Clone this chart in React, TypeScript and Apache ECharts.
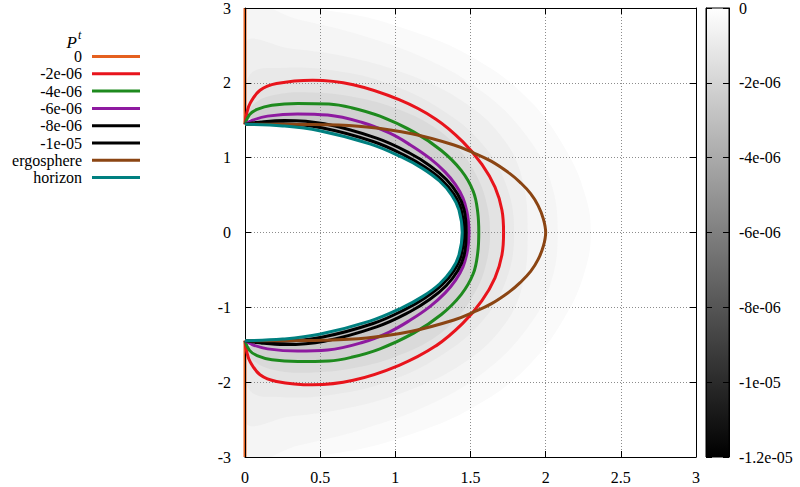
import { useEffect, useRef } from "react";
import * as echarts from "echarts";

// ---- tick labels ----
const xTickLabels = ["0", "0.5", "1", "1.5", "2", "2.5", "3"];
const yTickLabels = ["-3", "-2", "-1", "0", "1", "2", "3"];
const cbTickLabels = ["0", "-2e-06", "-4e-06", "-6e-06", "-8e-06", "-1e-05", "-1.2e-05"];

// ---- curves, upper half (x, y); the plot is symmetric in y ----
const zeroUpper = [[0, 1.445], [0, 3]];
const zeroLower = [[0, -1.445], [0, -3]];
const redUpper = [[0, 1.445], [0.012, 1.6], [0.035, 1.73], [0.1, 1.9], [0.21, 1.99], [0.45, 2.035], [0.72, 1.975], [1.025, 1.775], [1.27, 1.515], [1.448, 1.215], [1.576, 0.91], [1.663, 0.605], [1.709, 0.3], [1.72, 0]];
const greenUpper = [[0, 1.445], [0.03, 1.575], [0.08, 1.645], [0.179, 1.701], [0.351, 1.725], [0.558, 1.717], [0.708, 1.668], [0.898, 1.554], [1.125, 1.341], [1.306, 1.096], [1.438, 0.83], [1.518, 0.552], [1.548, 0.273], [1.555, 0]];
const purpleUpper = [[0, 1.445], [0.05, 1.5], [0.15, 1.555], [0.35, 1.585], [0.55, 1.57], [0.78, 1.47], [0.96, 1.33], [1.1, 1.17], [1.23, 0.99], [1.33, 0.81], [1.4, 0.64], [1.45, 0.46], [1.477, 0.27], [1.487, 0.13], [1.49, 0]];
const black8Upper = [[0, 1.445], [0.103, 1.476], [0.264, 1.497], [0.528, 1.452], [0.88, 1.257], [1.097, 1.059], [1.23, 0.893], [1.338, 0.711], [1.414, 0.515], [1.457, 0.31], [1.472, 0]];
const black10Upper = [[0, 1.445], [0.102, 1.456], [0.256, 1.453], [0.51, 1.4], [0.852, 1.216], [1.065, 1.028], [1.199, 0.871], [1.311, 0.697], [1.391, 0.506], [1.438, 0.306], [1.457, 0]];
const ergoUpper = [[0, 1.445], [0.25, 1.445], [0.52, 1.44], [0.81, 1.41], [1.11, 1.32], [1.39, 1.17], [1.52, 1.065], [1.64, 0.95], [1.76, 0.79], [1.83, 0.67], [1.9, 0.52], [1.95, 0.36], [1.985, 0.18], [2.0, 0]];
const horizonUpper = [[0, 1.445], [0.251, 1.424], [0.495, 1.36], [0.83, 1.185], [1.043, 1.007], [1.18, 0.857], [1.2935, 0.688], [1.375, 0.5], [1.423, 0.3025], [1.445, 0]];

// estimated (undrawn) shading levels of the background map
const shade03Upper = [[0, 3], [0.6, 2.95], [1.1, 2.7], [1.55, 2.3], [1.9, 1.75], [2.15, 1.05], [2.27, 0.45], [2.3, 0]];
const shade06Upper = [[0, 3], [0.35, 2.85], [0.8, 2.62], [1.25, 2.28], [1.6, 1.85], [1.87, 1.3], [2.03, 0.7], [2.08, 0]];
const shade1Upper = [[0, 2.5], [0.3, 2.46], [0.7, 2.34], [1.1, 2.1], [1.45, 1.75], [1.7, 1.3], [1.84, 0.75], [1.88, 0]];
const shade15Upper = [[0, 1.445], [0.03, 2.1], [0.25, 2.2], [0.6, 2.16], [0.95, 1.99], [1.3, 1.65], [1.58, 1.18], [1.74, 0.62], [1.79, 0]];
const shade3Upper = [[0, 1.445], [0.05, 1.7], [0.2, 1.84], [0.45, 1.87], [0.75, 1.8], [1.0, 1.66], [1.25, 1.42], [1.42, 1.12], [1.53, 0.8], [1.6, 0.45], [1.63, 0]];

const mirror = (upper: number[][]) =>
  upper.concat(upper.slice(0, -1).reverse().map(([x, y]) => [x, -y]));

const SERIF = "Liberation Serif";
const SMOOTH = 0.4;

const curves = [
  { name: "-2e-06", color: "#e8141c", data: mirror(redUpper) },
  { name: "-4e-06", color: "#1e8a1e", data: mirror(greenUpper) },
  { name: "-6e-06", color: "#8e1aa0", data: mirror(purpleUpper) },
  { name: "-8e-06", color: "#000000", data: mirror(black8Upper) },
  { name: "-1e-05", color: "#000000", data: mirror(black10Upper) },
  { name: "ergosphere", color: "#8b4513", data: mirror(ergoUpper) },
  { name: "horizon", color: "#008080", data: mirror(horizonUpper) },
];
const zeroColor = "#e5601f";

const fills = [
  { color: "#fafafa", pts: mirror(shade03Upper) },
  { color: "#f5f5f5", pts: mirror(shade06Upper) },
  { color: "#efefef", pts: mirror(shade1Upper) },
  { color: "#e9e9e9", pts: mirror(shade15Upper) },
  { color: "#e3e3e3", pts: mirror(redUpper) },
  { color: "#dadada", pts: mirror(shade3Upper) },
  { color: "#d1d1d1", pts: mirror(greenUpper) },
  { color: "#c8c8c8", pts: mirror(purpleUpper) },
  { color: "#bfbfbf", pts: mirror(black8Upper) },
  { color: "#ffffff", pts: mirror(horizonUpper) },
];

const legendItems = [
  { name: "0", color: zeroColor },
  ...curves.map((c) => ({ name: c.name, color: c.color })),
];

export default function App() {
  const ref = useRef<HTMLDivElement>(null);
  useEffect(() => {
    if (!ref.current) return;
    const chart = echarts.init(ref.current, undefined, { renderer: "svg" });
    const dotted = { show: true, showMinLine: false, showMaxLine: false, lineStyle: { color: "#8c8c8c", width: 1, type: [1, 2] } };
    const tick = { show: true, inside: true, length: 6, lineStyle: { color: "#000" } };
    const axLine = { show: true, onZero: false, lineStyle: { color: "#000", width: 1 } };
    const lbl = { color: "#000", fontFamily: SERIF, fontSize: 16 };

    const legendGraphics: any[] = [
      { type: "text", x: 77, y: 42, style: { text: "P", fontStyle: "italic", fontFamily: SERIF, fontSize: 17, fill: "#000", align: "right", verticalAlign: "middle" } },
      { type: "text", x: 78, y: 35, style: { text: "t", fontStyle: "italic", fontFamily: SERIF, fontSize: 12, fill: "#000", align: "left", verticalAlign: "middle" } },
    ];
    legendItems.forEach((it, i) => {
      const y = 56.5 + i * 17.3;
      legendGraphics.push({ type: "text", x: 82, y, style: { text: it.name, fontFamily: SERIF, fontSize: 16, fill: "#000", align: "right", verticalAlign: "middle" } });
      legendGraphics.push({ type: "line", shape: { x1: 92, y1: y, x2: 140, y2: y }, style: { stroke: it.color, lineWidth: 3 } });
    });

    const option: any = {
      animation: false,
      backgroundColor: "#ffffff",
      textStyle: { fontFamily: SERIF },
      grid: [
        { left: 245, top: 8, width: 451, height: 449 },
        { left: 706, top: 8, width: 23, height: 449, show: true, borderColor: "#000", borderWidth: 1, backgroundColor: "transparent", z: 5 },
      ],
      xAxis: [
        { type: "value", gridIndex: 0, min: 0, max: 3, interval: 0.5, position: "bottom", z: 3, axisLine: axLine, axisTick: tick, splitLine: dotted,
          axisLabel: { ...lbl, margin: 12, formatter: (v: number) => xTickLabels[Math.round(v / 0.5)] } },
        { type: "value", gridIndex: 0, min: 0, max: 3, interval: 0.5, position: "top", z: 3, axisLine: axLine, axisTick: tick, splitLine: { show: false }, axisLabel: { show: false } },
        { type: "value", gridIndex: 1, min: 0, max: 1, show: false },
      ],
      yAxis: [
        { type: "value", gridIndex: 0, min: -3, max: 3, interval: 1, position: "left", z: 3, axisLine: axLine, axisTick: tick, splitLine: dotted,
          axisLabel: { ...lbl, margin: 14, formatter: (v: number) => yTickLabels[Math.round(v) + 3] } },
        { type: "value", gridIndex: 0, min: -3, max: 3, interval: 1, position: "right", z: 3, axisLine: axLine, axisTick: tick, splitLine: { show: false }, axisLabel: { show: false } },
        { type: "value", gridIndex: 1, min: -1.2e-5, max: 0, interval: 2e-6, position: "right", z: 6, axisLine: axLine, axisTick: tick, splitLine: { show: false },
          axisLabel: { ...lbl, margin: 10, formatter: (v: number) => cbTickLabels[Math.round(-v / 2e-6)] } },
        { type: "value", gridIndex: 1, min: -1.2e-5, max: 0, interval: 2e-6, position: "left", z: 6, axisLine: axLine, axisTick: tick, splitLine: { show: false }, axisLabel: { show: false } },
      ],
      graphic: legendGraphics,
      series: [
        {
          type: "custom", xAxisIndex: 0, yAxisIndex: 0, z: 1, silent: true, clip: true,
          data: fills.map(() => [0, 0]),
          renderItem: (params: any, api: any) => {
            const f = fills[params.dataIndex];
            return { type: "polygon", shape: { points: f.pts.map((p) => api.coord(p)), smooth: SMOOTH }, style: { fill: f.color } };
          },
        },
        {
          type: "custom", xAxisIndex: 2, yAxisIndex: 2, z: 1, silent: true,
          data: [[0, 0]],
          renderItem: (_p: any, api: any) => {
            const tl = api.coord([0, 0]);
            const br = api.coord([1, -1.2e-5]);
            return {
              type: "rect",
              shape: { x: tl[0], y: tl[1], width: br[0] - tl[0], height: br[1] - tl[1] },
              style: { fill: new echarts.graphic.LinearGradient(0, 0, 0, 1, [{ offset: 0, color: "#ffffff" }, { offset: 1, color: "#000000" }]) },
            };
          },
        },
        { type: "line", name: "0", xAxisIndex: 0, yAxisIndex: 0, data: zeroUpper, showSymbol: false, symbol: "none", z: 2, lineStyle: { color: zeroColor, width: 3 } },
        { type: "line", name: "0b", xAxisIndex: 0, yAxisIndex: 0, data: zeroLower, showSymbol: false, symbol: "none", z: 2, lineStyle: { color: zeroColor, width: 3 } },
        ...curves.map((c) => ({
          type: "line", name: c.name, xAxisIndex: 0, yAxisIndex: 0, data: c.data, showSymbol: false, symbol: "none",
          smooth: SMOOTH, z: 4, lineStyle: { color: c.color, width: 3 },
        })),
      ],
    };
    chart.setOption(option);
    return () => chart.dispose();
  }, []);
  return <div ref={ref} style={{ position: "fixed", left: 0, top: 0, width: 800, height: 487 }} />;
}
